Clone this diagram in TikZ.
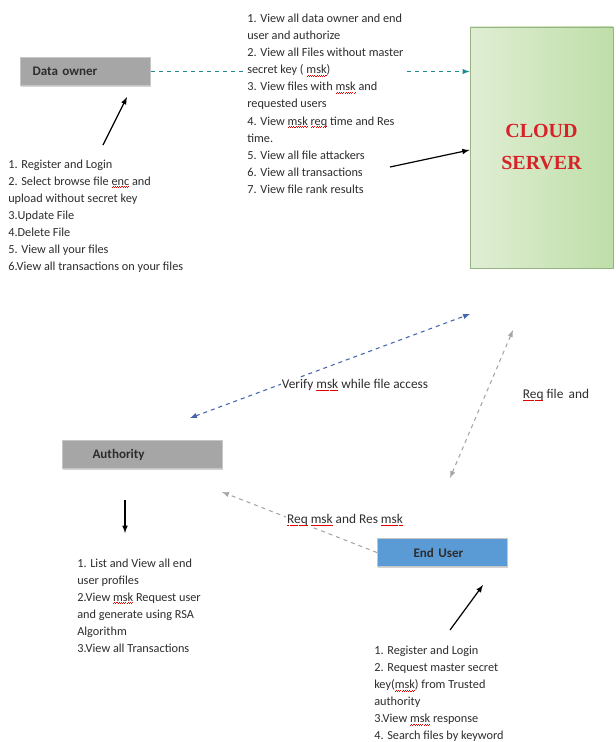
\documentclass[tikz,border=0pt]{standalone}
\usepackage{fontspec}
\setmainfont{Carlito}
\newfontfamily\capfont{Liberation Serif}
\usetikzlibrary{arrows, shadows}

\definecolor{boxgray}{RGB}{166,166,166}
\definecolor{userblue}{RGB}{91,155,213}
\definecolor{linkteal}{RGB}{30,140,140}
\definecolor{linkblue}{RGB}{70,100,175}
\definecolor{linkgray}{RGB}{165,165,165}
\definecolor{txt}{RGB}{45,45,45}
\definecolor{cloudred}{RGB}{215,35,40}
\definecolor{cloudlight}{RGB}{224,238,212}
\definecolor{clouddark}{RGB}{190,222,168}

% red wavy mark under a word
\newcommand\spl[1]{{\sbox0{#1}\rlap{\color{red!90!black}\raisebox{-1.9pt}{\hbox to\wd0{\xleaders\hbox{\rule{0.8pt}{0.5pt}\rule[0.5pt]{0.8pt}{0.5pt}}\hfill}}}\usebox0}}

\begin{document}
\begin{tikzpicture}[x=0.75pt,y=-0.75pt]
\tikzstyle{every node}=[font=\fontsize{9.2}{12.8}\selectfont, text=txt]
\tikzstyle{actor}=[rectangle, draw=gray!45, line width=0.8pt, anchor=north west,
  minimum height=21pt, align=left, font=\fontsize{9.8}{11}\selectfont\bfseries,
  drop shadow={shadow xshift=0.7pt, shadow yshift=-0.9pt, opacity=0.35}]
\tikzstyle{notes}=[align=left, anchor=north west, inner sep=1pt, fill=white]
\tikzstyle{tag}=[inner sep=1pt, font=\fontsize{10}{12}\selectfont]
\tikzstyle{link}=[dashed, line width=0.8pt]
\tikzstyle{push}=[-latex, line width=0.9pt, black]

\useasboundingbox (0,0) rectangle (615,742);

\node[actor, fill=boxgray, inner xsep=9pt, text width=79.5pt] (owner) at (20,57) {Data owner};
\node[actor, fill=boxgray, inner xsep=22.5pt, text width=75pt] (authority) at (62,440) {Authority};
\node[actor, fill=userblue, inner xsep=27pt, text width=43.5pt] (user) at (377,538) {End User};

\node[rectangle, draw={rgb,255:red,150;green,180;blue,130}, line width=0.6pt,
  left color=cloudlight, right color=clouddark,
  minimum width=107.25pt, minimum height=180.75pt, align=center,
  font=\capfont\bfseries\fontsize{15}{24}\selectfont, text=cloudred,
  drop shadow={shadow xshift=0.7pt, shadow yshift=-0.9pt, opacity=0.3}]
  (cloud) at (541.5,147.5) {CLOUD\\SERVER};

% links between the parties
\draw[link, linkteal, -latex] (owner.east) -- (cloud.west |- owner.east);

\coordinate (vfyA) at (190,418);
\coordinate (vfyC) at (470,314);
\draw[link, linkblue, latex-latex] (vfyA) -- (vfyC);

\coordinate (reqU) at (450,478);
\coordinate (reqC) at (513,330);
\draw[link, linkgray, latex-latex] (reqU) -- (reqC);

\coordinate (mskA) at (222,492);
\draw[link, linkgray, -latex] (user.west) -- (mskA);

% lists
\node[notes] (srvlist) at (245.7,12.5) {1. View all data owner and end\\user and authorize\\2. View all Files without master\\secret key ( \spl{msk})\\3. View files with \spl{msk} and\\requested users\\4. View \spl{msk} \spl{req} time and Res\\time.\\5. View all file attackers\\6. View all transactions\\7. View file rank results};
\node[notes] (ownlist) at (6.7,158) {1. Register and Login\\2. Select browse file \spl{enc} and\\upload without secret key\\3.Update File\\4.Delete File\\5. View all your files\\6.View all transactions on your files};
\node[notes] (autlist) at (75.7,557) {1. List and View all end\\user profiles\\2.View \spl{msk} Request user\\and generate using RSA\\Algorithm\\3.View all Transactions};
\node[notes] (usrlist) at (372.7,644.5) {1. Register and Login\\2. Request master secret\\key(\spl{msk}) from Trusted\\authority\\3.View \spl{msk} response\\4. Search files by keyword};

% arrows from the lists
\coordinate (ownS) at (103,145);
\coordinate (ownE) at (127,97);
\draw[push] (ownS) -- (ownE);
\coordinate (srvS) at (390,167);
\draw[push] (srvS) -- (cloud.west |- 0,150);
\coordinate (autS) at (125,500);
\coordinate (autE) at (125,533);
\draw[push] (autS) -- (autE);
\coordinate (usrS) at (450,630);
\coordinate (usrE) at (483,585);
\draw[push] (usrS) -- (usrE);

% link labels
\node[tag, fill=white] (vfylbl) at (355,385) {Verify \spl{msk} while file access};
\node[tag] (reqlbl) at (556,395) {\spl{Req} file\, and};
\node[tag, fill=white] (msklbl) at (345,520) {\spl{Req} \spl{msk} and Res \spl{msk}};
\end{tikzpicture}
\end{document}
